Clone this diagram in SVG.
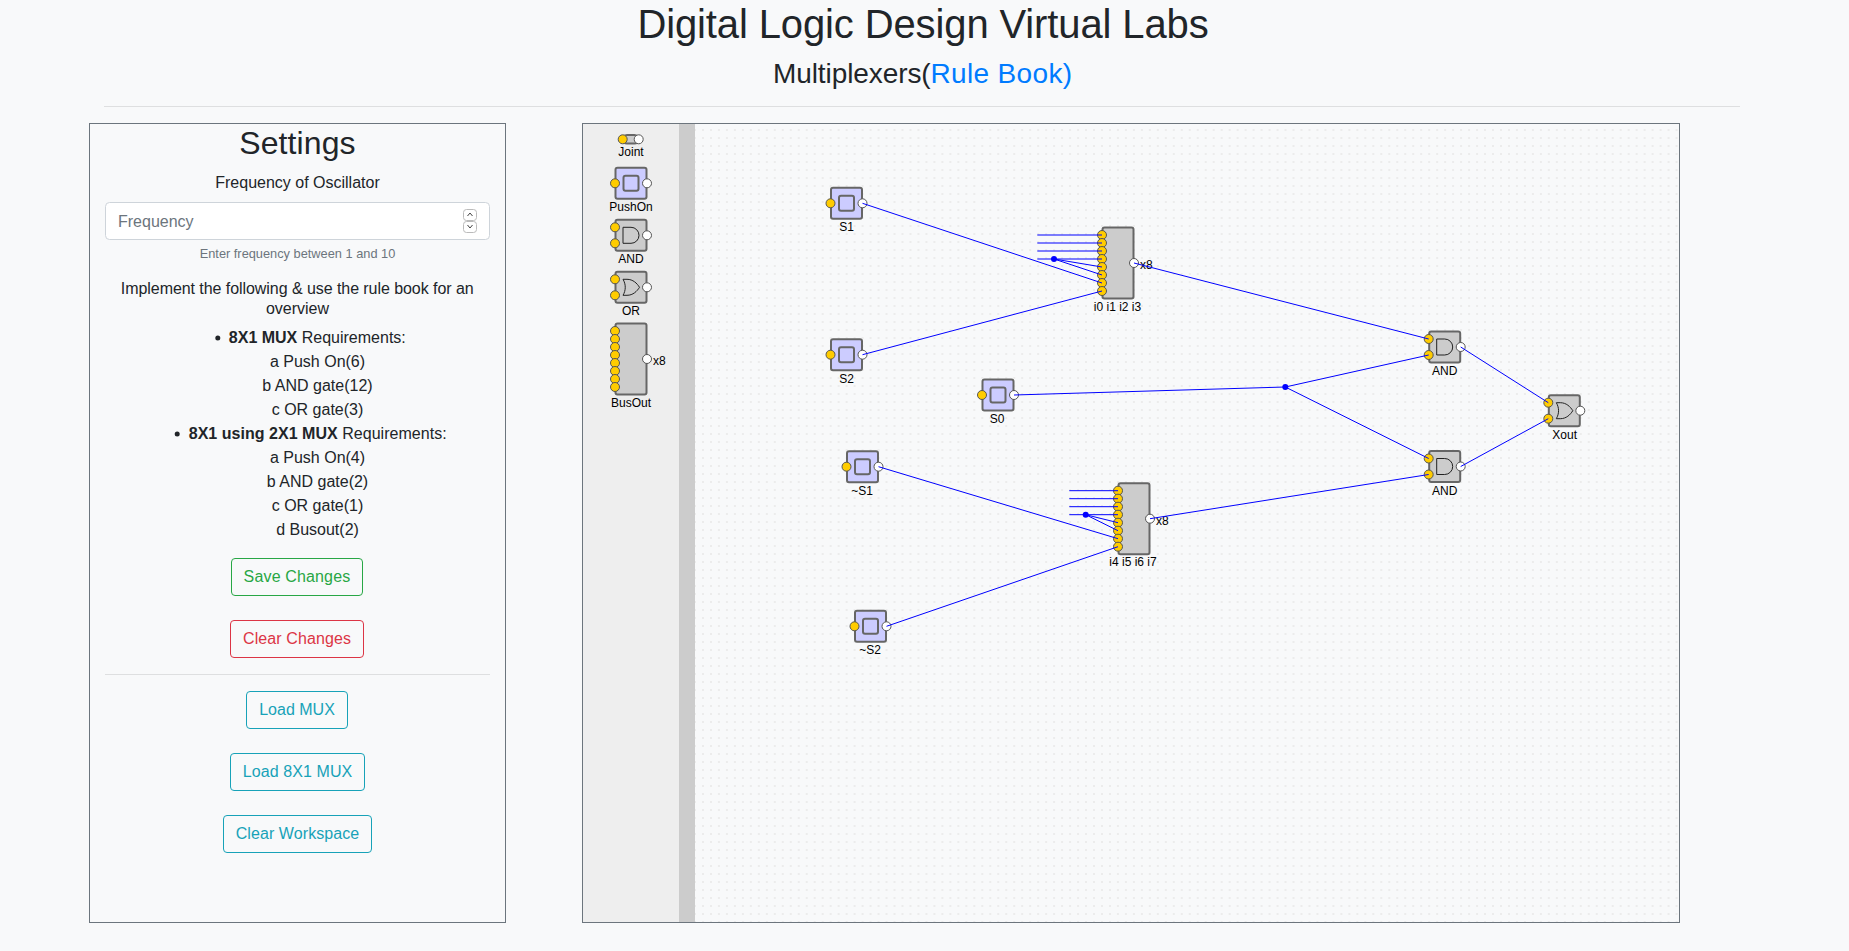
<svg xmlns="http://www.w3.org/2000/svg" width="1849" height="951" viewBox="0 0 1849 951">
<defs>
<style>
text{font-family:"Liberation Sans",Arial,sans-serif;fill:#212529}
.c{text-anchor:middle}
.t16{font-size:16px}
.box{fill:none;stroke:#6c757d;stroke-width:1}
.btn{fill:none;stroke-width:1}
.lab{font-size:12px;fill:#000;text-anchor:middle}
.x8{font-size:12px;fill:#000}
.dev{fill:#ccc;stroke:#666;stroke-width:2}
.push{fill:#ccf;stroke:#666;stroke-width:2}
.in{fill:#fc0;stroke:#555;stroke-width:1}
.out{fill:#fff;stroke:#555;stroke-width:1}
.glyph{fill:none;stroke:#222;stroke-width:1}
.wire{fill:none;stroke:#00f;stroke-width:1}
.dot{fill:#00f}
</style>
<pattern id="grid" x="699" y="862" width="7.98" height="8" patternUnits="userSpaceOnUse"><rect x="3" y="3" width="2" height="2" fill="#ececec"/></pattern>
<g id="p-push"><rect class="push" x=".5" y=".5" width="31" height="31" rx="2"/><rect class="push" x="8.5" y="8.5" width="15" height="15" rx="2"/><circle class="in" cy="16" r="4.5"/><circle class="out" cx="32" cy="16" r="4.5"/></g>
<g id="p-and"><rect class="dev" x=".5" y=".5" width="31" height="31" rx="2"/><path class="glyph" d="M8 8H16A8 8 0 0 1 16 24H8Z"/><circle class="in" cy="8" r="4.5"/><circle class="in" cy="24" r="4.5"/><circle class="out" cx="32" cy="16" r="4.5"/></g>
<g id="p-or"><rect class="dev" x=".5" y=".5" width="31" height="31" rx="2"/><path class="glyph" d="M8 8H12C18 8 22 12 24.5 16C22 20 18 24 12 24H8C11 19 11 13 8 8Z"/><circle class="in" cy="8" r="4.5"/><circle class="in" cy="24" r="4.5"/><circle class="out" cx="32" cy="16" r="4.5"/></g>
<g id="p-bus"><rect class="dev" x=".5" y=".5" width="31" height="71" rx="2"/><circle class="in" cy="8" r="4.5"/><circle class="in" cy="16" r="4.5"/><circle class="in" cy="24" r="4.5"/><circle class="in" cy="32" r="4.5"/><circle class="in" cy="40" r="4.5"/><circle class="in" cy="48" r="4.5"/><circle class="in" cy="56" r="4.5"/><circle class="in" cy="64" r="4.5"/><circle class="out" cx="32" cy="36" r="4.5"/></g>
</defs>
<rect width="1849" height="951" fill="#f8f9fa"/>
<g id="header">
<text class="c" x="923" y="38" font-size="40" letter-spacing="-.12">Digital Logic Design Virtual Labs</text>
<text class="c" x="922.7" y="83" font-size="28"><tspan letter-spacing="-.09">Multiplexers(</tspan><tspan letter-spacing=".33" style="fill:#007bff">Rule Book)</tspan></text>
<line x1="104" x2="1740" y1="106.5" y2="106.5" stroke="#000" stroke-opacity=".1"/>
</g>
<g id="settings">
<rect class="box" x="89.5" y="123.5" width="416" height="799"/>
<text class="c" x="297.5" y="154" font-size="32" letter-spacing=".1">Settings</text>
<text class="c t16" x="297.5" y="188">Frequency of Oscillator</text>
<rect x="105.5" y="202.5" width="384" height="37" rx="4" fill="#fff" stroke="#ced4da"/>
<text class="t16" x="118" y="227" style="fill:#6c757d">Frequency</text>
<rect x="463.5" y="209.5" width="13" height="11" rx="3" fill="#fff" stroke="#bbb"/>
<path d="M467.5 216L470 213L472.5 216" fill="none" stroke="#444"/>
<rect x="463.5" y="221.5" width="13" height="11" rx="3" fill="#fff" stroke="#bbb"/>
<path d="M467.5 225L470 228L472.5 225" fill="none" stroke="#444"/>
<text class="c" x="297.5" y="258" font-size="12.8" style="fill:#6c757d">Enter frequency between 1 and 10</text>
<text class="c t16" x="297.2" y="294" letter-spacing="-.06">Implement the following &amp; use the rule book for an</text>
<text class="c t16" x="297.5" y="314">overview</text>
<circle cx="217.8" cy="338" r="2.5" fill="#212529"/>
<text class="c t16" x="317.3" y="343"><tspan font-weight="bold">8X1 MUX</tspan> Requirements:</text>
<text class="c t16" x="317.5" y="367">a Push On(6)</text>
<text class="c t16" x="317.5" y="391">b AND gate(12)</text>
<text class="c t16" x="317.5" y="415">c OR gate(3)</text>
<circle cx="177.2" cy="434" r="2.5" fill="#212529"/>
<text class="c t16" x="317.7" y="439" letter-spacing=".03"><tspan font-weight="bold">8X1 using 2X1 MUX</tspan> Requirements:</text>
<text class="c t16" x="317.5" y="463">a Push On(4)</text>
<text class="c t16" x="317.5" y="487">b AND gate(2)</text>
<text class="c t16" x="317.5" y="511">c OR gate(1)</text>
<text class="c t16" x="317.5" y="535">d Busout(2)</text>
<rect class="btn" x="231.5" y="558.5" width="131" height="37" rx="3.5" stroke="#28a745"/>
<text class="c t16" x="297" y="582" letter-spacing=".15" style="fill:#28a745">Save Changes</text>
<rect class="btn" x="230.5" y="620.5" width="133" height="37" rx="3.5" stroke="#dc3545"/>
<text class="c t16" x="297" y="644" letter-spacing=".1" style="fill:#dc3545">Clear Changes</text>
<line x1="105" x2="490" y1="674.5" y2="674.5" stroke="#000" stroke-opacity=".1"/>
<rect class="btn" x="246.5" y="691.5" width="101" height="37" rx="3.5" stroke="#17a2b8"/>
<text class="c t16" x="297" y="715" style="fill:#17a2b8">Load MUX</text>
<rect class="btn" x="230.5" y="753.5" width="134" height="37" rx="3.5" stroke="#17a2b8"/>
<text class="c t16" x="297.5" y="777" letter-spacing=".1" style="fill:#17a2b8">Load 8X1 MUX</text>
<rect class="btn" x="223.5" y="815.5" width="148" height="37" rx="3.5" stroke="#17a2b8"/>
<text class="c t16" x="297.5" y="839" letter-spacing=".08" style="fill:#17a2b8">Clear Workspace</text>
</g>
<g id="workspace">
<rect x="582.5" y="123.5" width="1097" height="799" fill="#f8f9fa"/>
<rect x="695" y="124" width="984" height="798" fill="url(#grid)"/>
<rect x="583" y="124" width="96" height="798" fill="#eee"/>
<rect x="679" y="124" width="16" height="798" fill="#ccc"/>
<rect class="box" x="582.5" y="123.5" width="1097" height="799"/>
</g>
<g id="tb-joint"><rect class="dev" x="622.7" y="135" width="16" height="8.6" rx="4.3"/><circle class="in" cx="622.7" cy="139.3" r="4.5"/><circle class="out" cx="638.7" cy="139.3" r="4.5"/><text class="lab" x="631" y="156">Joint</text></g>
<g id="tb-pushon"><use href="#p-push" x="615" y="167.3"/><text class="lab" x="631" y="211">PushOn</text></g>
<g id="tb-and"><use href="#p-and" x="615" y="219.3"/><text class="lab" x="631" y="263">AND</text></g>
<g id="tb-or"><use href="#p-or" x="615" y="271.3"/><text class="lab" x="631" y="315">OR</text></g>
<g id="tb-busout"><use href="#p-bus" x="615" y="323"/><text class="x8" x="653" y="365">x8</text><text class="lab" x="631" y="407">BusOut</text></g>
<g id="s1"><use href="#p-push" x="830.5" y="187.3"/><text class="lab" x="846.5" y="231">S1</text></g>
<g id="s2"><use href="#p-push" x="830.5" y="338.7"/><text class="lab" x="846.5" y="382.5">S2</text></g>
<g id="s0"><use href="#p-push" x="982" y="379"/><text class="lab" x="997" y="423">S0</text></g>
<g id="ns1"><use href="#p-push" x="846.5" y="450.7"/><text class="lab" x="862" y="494.5">~S1</text></g>
<g id="ns2"><use href="#p-push" x="854.5" y="610.3"/><text class="lab" x="870" y="654">~S2</text></g>
<g id="bus1"><use href="#p-bus" x="1102" y="227"/><text class="x8" x="1140" y="269">x8</text><text class="lab" x="1117.5" y="311">i0 i1 i2 i3</text></g>
<g id="bus2"><use href="#p-bus" x="1118" y="482.7"/><text class="x8" x="1156" y="525">x8</text><text class="lab" x="1133" y="566">i4 i5 i6 i7</text></g>
<g id="and1"><use href="#p-and" x="1428.7" y="331"/><text class="lab" x="1444.7" y="375">AND</text></g>
<g id="and2"><use href="#p-and" x="1428.7" y="450.5"/><text class="lab" x="1444.7" y="495">AND</text></g>
<g id="xout"><use href="#p-or" x="1548.3" y="394.7"/><text class="lab" x="1564.7" y="439">Xout</text></g>
<g id="connectors">
<path class="wire" d="M862.5 203.3L1102 283M862.5 354.7L1102 291M1134 263L1428.7 339M1014 395L1285.3 387L1428.7 355M1285.3 387L1428.7 458.5M1460.7 347L1548.3 402.7M1460.7 466.5L1548.3 418.7"/>
<path class="wire" d="M1037.3 235H1102M1037.3 243H1102M1037.3 251H1102M1037.3 259H1102M1054 259L1102 267M1054 259L1102 275"/>
<path class="wire" d="M1069.3 490.7H1118M1069.3 498.7H1118M1069.3 506.7H1118M1069.3 514.7H1118M1085.7 514.7L1118 522.7M1085.7 514.7L1118 530.7M878.5 466.7L1118 538.7M886.5 626.3L1118 546.7M1150 518.7L1428.7 474.5"/>
<circle class="dot" cx="1054" cy="259" r="3"/>
<circle class="dot" cx="1085.7" cy="514.7" r="3"/>
<circle class="dot" cx="1285.3" cy="387" r="3"/>
</g>
</svg>
